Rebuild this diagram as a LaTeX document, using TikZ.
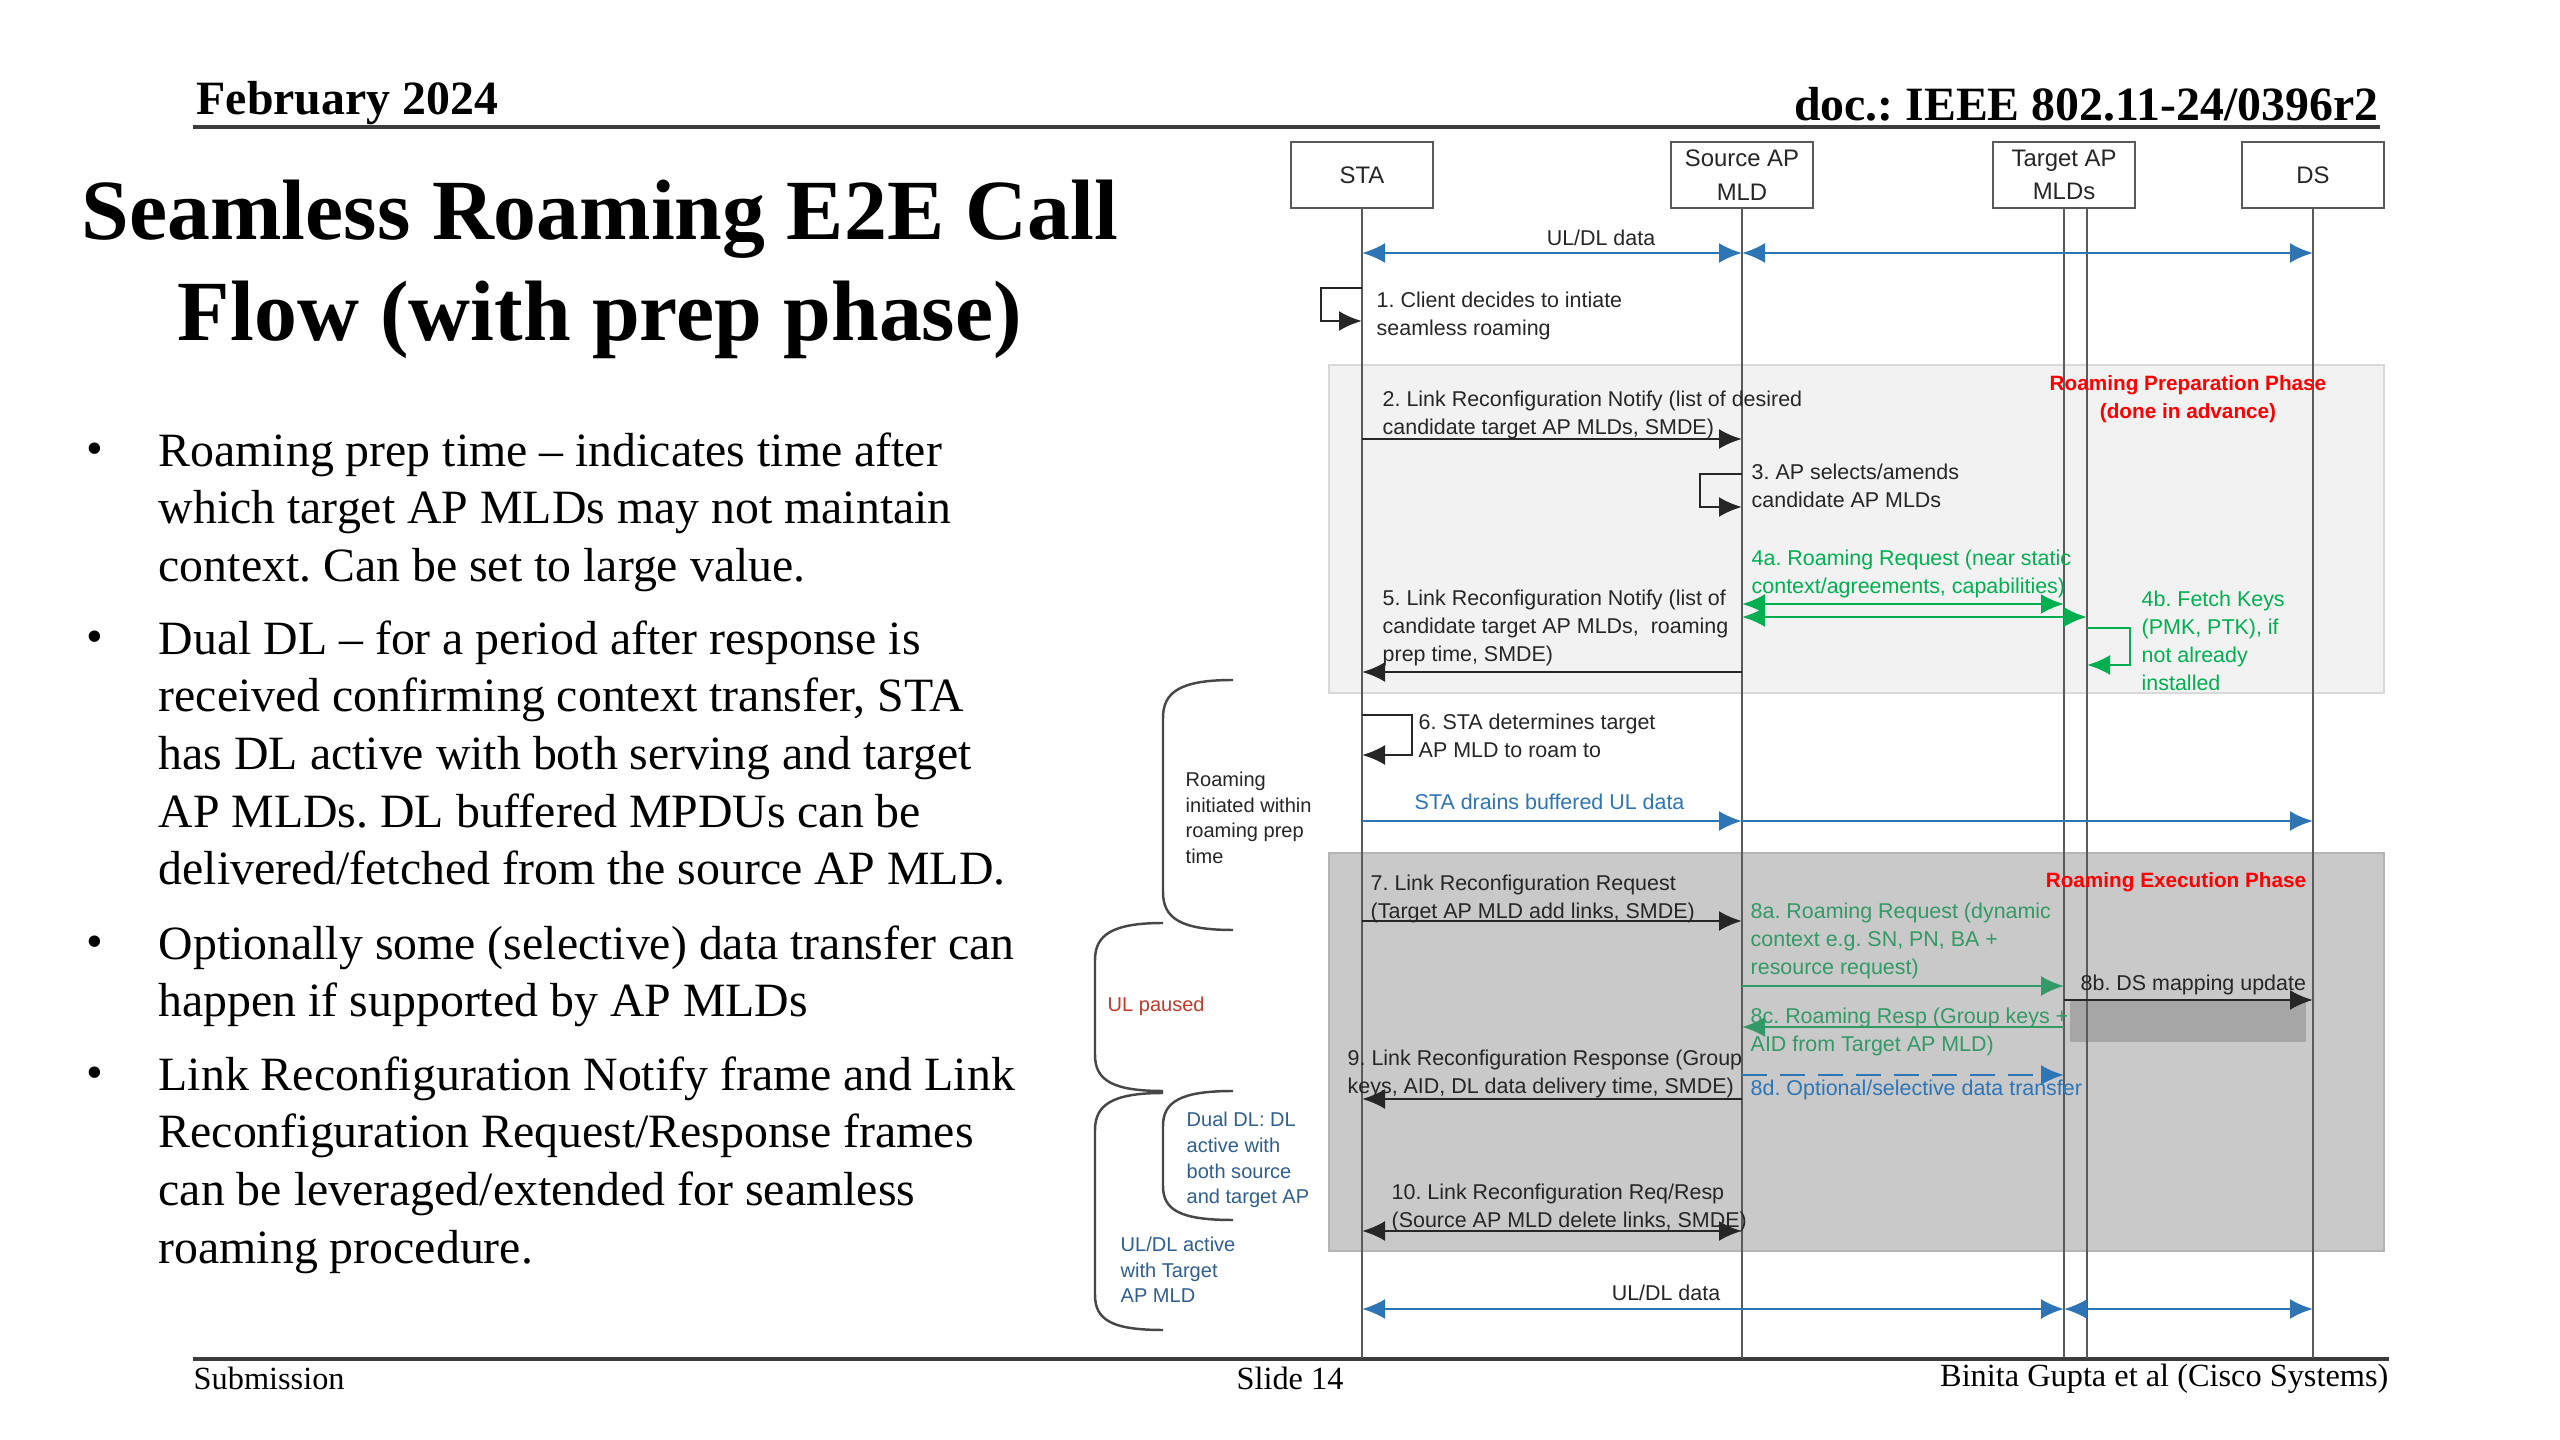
\documentclass[tikz,border=0pt]{standalone}
\usepackage{fontspec}
\setmainfont{Liberation Serif}
\setsansfont{Liberation Sans}
\usepackage{tikz}
\usetikzlibrary{arrows.meta,positioning,calc}
\frenchspacing
\definecolor{Ink}{HTML}{262626}
\definecolor{Rule}{HTML}{3C3C3C}
\definecolor{Lane}{HTML}{5A5A5A}
\definecolor{FlowBlue}{HTML}{2E75B6}
\definecolor{NoteBlue}{HTML}{2F5F8F}
\definecolor{KeyGreen}{HTML}{00B050}
\definecolor{CtxGreen}{HTML}{339966}
\definecolor{PhaseRed}{HTML}{FF0000}
\definecolor{PauseRed}{HTML}{C0392B}
\definecolor{PrepFill}{HTML}{F2F2F2}
\definecolor{PrepEdge}{HTML}{D9D9D9}
\definecolor{ExecFill}{HTML}{C9C9C9}
\definecolor{MapFill}{HTML}{A6A6A6}
\newcommand{\diagfont}{\sffamily\fontsize{6.1}{8}\selectfont}
\tikzset{
  lifebox/.style={draw=Lane,fill=white,line width=0.6pt,minimum width=14.2mm,minimum height=6.6mm,
    inner sep=0pt,align=center,text=Ink,font=\sffamily\fontsize{6.8}{9.6}\selectfont},
  lifeline/.style={draw=Lane,line width=0.5pt},
  msg/.style={-{Latex[length=2.3mm,width=2mm]},line width=0.8pt,color=Ink},
  dmsg/.style={msg,{Latex[length=2.3mm,width=2mm]}-{Latex[length=2.3mm,width=2mm]}},
  flowmsg/.style={msg,color=FlowBlue},
  flowdata/.style={dmsg,color=FlowBlue},
  keymsg/.style={msg,color=KeyGreen},
  keydata/.style={dmsg,color=KeyGreen},
  ctxmsg/.style={msg,color=CtxGreen},
  optmsg/.style={flowmsg,dash pattern=on 2.5mm off 1.3mm},
  lbl/.style={font=\diagfont,text=Ink,align=left,inner sep=0pt,anchor=west},
  phaselbl/.style={font=\sffamily\bfseries\fontsize{5.9}{7.9}\selectfont,text=PhaseRed,align=center,inner sep=0pt},
  bracelbl/.style={font=\sffamily\fontsize{5.7}{7.3}\selectfont,align=left,inner sep=0pt,anchor=west},
  roambrace/.style={draw=Ink!85,line width=0.7pt},
  rulebar/.style={draw=Rule,line width=1pt},
  bullettext/.style={font=\fontsize{13.6}{16.4}\selectfont,align=left,inner sep=0pt,anchor=north west,text=black},
  bdot/.style={font=\fontsize{13.6}{16.4}\selectfont,inner sep=0pt,anchor=base}
}

\begin{document}
\begin{tikzpicture}[x=0.1mm,y=-0.1mm]
  \useasboundingbox (0,0) rectangle (2560,1440);
  \fill[white] (0,0) rectangle (2560,1440);

  % slide header and footer
  \node[anchor=base west,inner sep=0pt,font=\bfseries\fontsize{13.6}{16}\selectfont] (month) at (196,115) {February 2024};
  \node[anchor=base east,inner sep=0pt,font=\bfseries\fontsize{13.6}{16}\selectfont] (docid) at (2379,121) {doc.: IEEE 802.11-24/0396r2};
  \draw[rulebar] (193,127) -- (2380,127);
  \draw[rulebar,line width=1.2pt] (193,1359) -- (2389,1359);
  \node[anchor=base west,inner sep=0pt,font=\fontsize{9.2}{11}\selectfont] (subm) at (193,1389) {Submission};
  \node[anchor=base,inner sep=0pt,font=\fontsize{9.2}{11}\selectfont] (slide) at (1290,1389) {Slide 14};
  \node[anchor=base east,inner sep=0pt,font=\fontsize{9.2}{11}\selectfont] (authors) at (2389,1386) {Binita Gupta et al (Cisco Systems)};

  % title and bullets
  \node[anchor=north,align=center,inner sep=0pt,font=\bfseries\fontsize{24.4}{28.8}\selectfont] (title) at (600,179)
    {Seamless Roaming E2E Call\\Flow (with prep phase)};
  \node[bdot] (d1) at (95,465) {•};
  \node[bullettext] (b1) at (158,432) {Roaming prep time – indicates time after\\which target AP MLDs may not maintain\\context. Can be set to large value.};
  \node[bdot] (d2) at (95,653) {•};
  \node[bullettext] (b2) at (158,620) {Dual DL – for a period after response is\\received confirming context transfer, STA\\has DL active with both serving and target\\AP MLDs. DL buffered MPDUs can be\\delivered/fetched from the source AP MLD.};
  \node[bdot] (d3) at (95,958) {•};
  \node[bullettext] (b3) at (158,925) {Optionally some (selective) data transfer can\\happen if supported by AP MLDs};
  \node[bdot] (d4) at (95,1089) {•};
  \node[bullettext] (b4) at (158,1056) {Link Reconfiguration Notify frame and Link\\Reconfiguration Request/Response frames\\can be leveraged/extended for seamless\\roaming procedure.};

  % entities
  \node[lifebox] (sta) at (1362,175) {STA};
  \node[lifebox] (src) at (1742,175) {Source AP\\MLD};
  \node[lifebox] (tgt) at (2064,175) {Target AP\\MLDs};
  \node[lifebox] (ds) at (2313,175) {DS};
  \coordinate (staL) at (sta.south);
  \coordinate (srcL) at (src.south);
  \coordinate (tgtA) at (tgt.south);
  \coordinate (tgtB) at ([xshift=2.3mm]tgt.south);
  \coordinate (dsL) at (ds.south);
  \coordinate (foot) at (0,1358);

  % phases
  \filldraw[fill=PrepFill,draw=PrepEdge,line width=0.6pt] (1329,365) rectangle (2384,693);
  \filldraw[fill=ExecFill,draw=ExecFill!90!black,line width=0.6pt] (1329,853) rectangle (2384,1251);
  \fill[MapFill] (2070,1000) rectangle (2306,1042);
  \foreach \l in {staL,srcL,tgtA,tgtB,dsL}
    \draw[lifeline] (\l) -- (\l |- foot);
  \node[phaselbl] (prep) at (2188,399) {Roaming Preparation Phase\\(done in advance)};
  \node[phaselbl] (exec) at (2176,882) {Roaming Execution Phase};

  % messages
  \draw[flowdata] (staL |- 0,253) -- (srcL |- 0,253);
  \draw[flowdata] (srcL |- 0,253) -- (dsL |- 0,253);
  \node[lbl,anchor=center] (ul1) at (1601,238) {UL/DL data};

  \draw[msg] (staL |- 0,288) -- ++(-41,0) -- ++(0,33) -- (staL |- 0,321);
  \node[lbl] (m1) at (1376,316) {1. Client decides to intiate\\seamless roaming};

  \draw[msg] (staL |- 0,439) -- (srcL |- 0,439);
  \node[lbl] (m2) at (1382,415) {2. Link Reconfiguration Notify (list of desired\\candidate target AP MLDs, SMDE)};

  \draw[msg] (srcL |- 0,474) -- ++(-42,0) -- ++(0,33) -- (srcL |- 0,507);
  \node[lbl] (m3) at (1751,486) {3. AP selects/amends\\candidate AP MLDs};

  \draw[keydata] (srcL |- 0,604) -- (tgtA |- 0,604);
  \draw[keydata] (srcL |- 0,617) -- (tgtB |- 0,617);
  \node[lbl,text=KeyGreen] (m4a) at (1751,574) {4a. Roaming Request (near static\\context/agreements, capabilities)};

  \draw[keymsg] (tgtB |- 0,628) -- ++(43,0) -- ++(0,37) -- (tgtB |- 0,665);
  \node[lbl,text=KeyGreen] (m4b) at (2141,641) {4b. Fetch Keys\\(PMK, PTK), if\\not already\\installed};

  \draw[msg] (srcL |- 0,672) -- (staL |- 0,672);
  \node[lbl] (m5) at (1382,628) {5. Link Reconfiguration Notify (list of\\candidate target AP MLDs,\ \ roaming\\prep time, SMDE)};

  \draw[msg] (staL |- 0,715) -- ++(50,0) -- ++(0,40) -- (staL |- 0,755);
  \node[lbl] (m6) at (1418,736) {6. STA determines target\\AP MLD to roam to};

  \draw[flowmsg] (staL |- 0,821) -- (srcL |- 0,821);
  \draw[flowmsg] (srcL |- 0,821) -- (dsL |- 0,821);
  \node[lbl,text=FlowBlue] (drain) at (1414,802) {STA drains buffered UL data};

  \draw[msg] (staL |- 0,921) -- (srcL |- 0,921);
  \node[lbl] (m7) at (1370,899) {7. Link Reconfiguration Request\\(Target AP MLD add links, SMDE)};

  \draw[ctxmsg] (srcL |- 0,986) -- (tgtA |- 0,986);
  \node[lbl,text=CtxGreen] (m8a) at (1750,941) {8a. Roaming Request (dynamic\\context e.g. SN, PN, BA +\\resource request)};

  \draw[msg] (tgtA |- 0,1000) -- (dsL |- 0,1000);
  \node[lbl] (m8b) at (2080,985) {8b. DS mapping update};

  \draw[ctxmsg] (tgtA |- 0,1027) -- (srcL |- 0,1027);
  \node[lbl,text=CtxGreen] (m8c) at (1750,1032) {8c. Roaming Resp (Group keys +\\AID from Target AP MLD)};

  \draw[optmsg] (srcL |- 0,1075) -- (tgtA |- 0,1075);
  \node[lbl,text=FlowBlue] (m8d) at (1750,1090) {8d. Optional/selective data transfer};

  \draw[msg] (srcL |- 0,1099) -- (staL |- 0,1099);
  \node[lbl] (m9) at (1347,1074) {9. Link Reconfiguration Response (Group\\keys, AID, DL data delivery time, SMDE)};

  \draw[dmsg] (staL |- 0,1231) -- (srcL |- 0,1231);
  \node[lbl] (m10) at (1391,1208) {10. Link Reconfiguration Req/Resp\\(Source AP MLD delete links, SMDE)};

  \draw[flowdata] (staL |- 0,1309) -- (tgtA |- 0,1309);
  \draw[flowdata] (tgtA |- 0,1309) -- (dsL |- 0,1309);
  \node[lbl,anchor=center] (ul2) at (1666,1293) {UL/DL data};

  % timing braces
  \draw[roambrace] (1233,680) .. controls (1180,680) and (1163,692) .. (1163,718) -- (1163,892) .. controls (1163,918) and (1180,930) .. (1233,930);
  \node[bracelbl,text=Ink] (prepwin) at (1185,818) {Roaming\\initiated within\\roaming prep\\time};
  \draw[roambrace] (1163,923) .. controls (1112,923) and (1095,935) .. (1095,960) -- (1095,1055) .. controls (1095,1080) and (1112,1091) .. (1163,1091);
  \node[bracelbl,text=PauseRed] (ulpause) at (1107,1006) {UL paused};
  \draw[roambrace] (1233,1091) .. controls (1180,1091) and (1163,1102) .. (1163,1126) -- (1163,1186) .. controls (1163,1210) and (1180,1220) .. (1233,1220);
  \node[bracelbl,text=NoteBlue] (dualdl) at (1186,1160) {Dual DL: DL\\active with\\both source\\and target AP};
  \draw[roambrace] (1163,1093) .. controls (1112,1093) and (1095,1105) .. (1095,1130) -- (1095,1295) .. controls (1095,1320) and (1112,1330) .. (1163,1330);
  \node[bracelbl,text=NoteBlue] (uldl) at (1120,1270) {UL/DL active\\with Target\\AP MLD};
\end{tikzpicture}
\end{document}
